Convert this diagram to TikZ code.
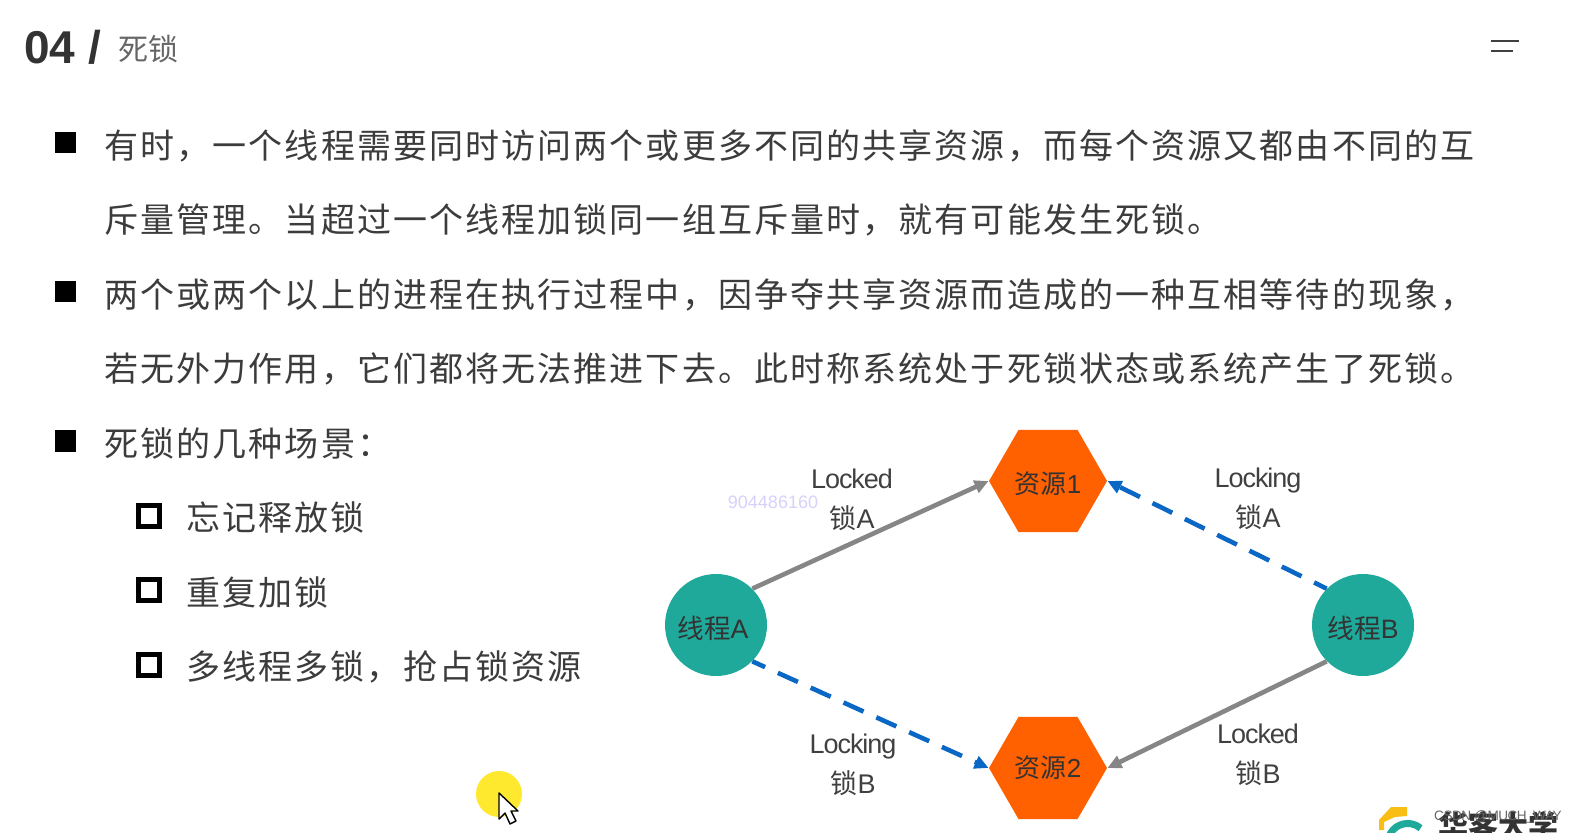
\documentclass[tikz,border=0pt]{standalone}
\usepackage{fontspec}
\usetikzlibrary{arrows.meta,shapes.geometric}
\setmainfont{Liberation Sans}
\newfontfamily\cjk{Noto Sans CJK SC}
\newfontfamily\cjkbody[LetterSpace=6.2]{Noto Sans CJK SC}
\newfontfamily\tightlatin[LetterSpace=-4]{Liberation Sans}
\definecolor{threadcolor}{HTML}{1FA99A}
\definecolor{rescolor}{HTML}{FF6000}
\definecolor{lockedcolor}{HTML}{868686}
\definecolor{lockingcolor}{HTML}{0A68C4}
\definecolor{bodycolor}{HTML}{3C3C3C}
\definecolor{capcolor}{HTML}{F9BE16}
\definecolor{spotcolor}{HTML}{FFE92E}
\tikzset{
    bodytext/.style={anchor=west,inner sep=0pt,text=bodycolor,font=\fontsize{17}{20}\cjkbody},
    bullet/.style={fill=black,minimum size=10.5pt,inner sep=0pt},
    subbullet/.style={draw=black,line width=2.2pt,minimum size=10.5pt,inner sep=0pt},
    thread/.style={circle,fill=threadcolor,minimum size=51pt,inner sep=0pt,text=black!80,text height=15pt,text depth=2pt,font=\fontsize{13.3}{16}\tightlatin},
    res/.style={regular polygon,regular polygon sides=6,fill=rescolor,minimum size=59pt,inner sep=0pt,text=black!80,font=\fontsize{13}{16}\tightlatin},
    locktext/.style={align=center,inner sep=0pt,text=black!75,font=\fontsize{13.5}{20}\tightlatin},
    locked/.style={draw=lockedcolor,line width=2.3pt,-{Triangle[length=7pt,width=6.5pt]}},
    locking/.style={draw=lockingcolor,line width=2.3pt,dash pattern=on 11pt off 7pt,dash phase=4pt,-{Triangle[length=7pt,width=6.5pt]}},
}
\begin{document}
\begin{tikzpicture}[x=0.5pt,y=-0.5pt]
    \clip (0,0) rectangle (1577,833);

    % header
    \node[anchor=west,inner sep=0pt,text=black!80,font=\fontsize{23}{26}\bfseries] (num) at (24,47) {04 /};
    \node[anchor=west,inner sep=0pt,text=black!60,font=\fontsize{15}{18}\cjk] (title) at (118,49) {死锁};
    \draw[black!75,line width=1pt] (1491,41) -- (1519,41);
    \draw[black!75,line width=1pt] (1491,51) -- (1513,51);

    % text
    \node[bullet] (b1) at (65,142.5) {};
    \node[bullet] (b2) at (65,291.5) {};
    \node[bullet] (b3) at (65,441) {};
    \node[bodytext] (line1) at (104,146) {有时，一个线程需要同时访问两个或更多不同的共享资源，而每个资源又都由不同的互};
    \node[bodytext] (line2) at (104,220) {斥量管理。当超过一个线程加锁同一组互斥量时，就有可能发生死锁。};
    \node[bodytext] (line3) at (104,295) {两个或两个以上的进程在执行过程中，因争夺共享资源而造成的一种互相等待的现象，};
    \node[bodytext] (line4) at (104,369) {若无外力作用，它们都将无法推进下去。此时称系统处于死锁状态或系统产生了死锁。};
    \node[bodytext] (line5) at (104,443.5) {死锁的几种场景：};
    \node[subbullet] (s1) at (149,516) {};
    \node[subbullet] (s2) at (149,590) {};
    \node[subbullet] (s3) at (149,665) {};
    \node[bodytext] (sub1) at (186,518) {忘记释放锁};
    \node[bodytext] (sub2) at (186,592) {重复加锁};
    \node[bodytext] (sub3) at (186,667) {多线程多锁，抢占锁资源};

    % graph
    \node[thread] (threadA) at (716,625) {\hspace{-3pt}{\cjk 线程}A};
    \node[thread] (threadB) at (1363,625) {{\cjk 线程}B};
    \node[res,text height=14pt,text depth=2pt] (res1) at (1048,481) {{\cjk 资源}1};
    \node[res] (res2) at (1048,768) {{\cjk 资源}2};
    \draw[locked] (threadA.north east) -- (res1.west);
    \draw[locked] (threadB.south west) -- (res2.east);
    \draw[locking] (threadA.south east) -- (res2.west);
    \draw[locking] (threadB.north west) -- (res1.east);
    \node[locktext] (lockA1) at (852,500) {Locked\\{\cjk 锁}A};
    \node[locktext] (lockB1) at (853,765) {Locking\\{\cjk 锁}B};
    \node[locktext] (lockA2) at (1258,498.5) {Locking\\{\cjk 锁}A};
    \node[locktext] (lockB2) at (1258,755) {Locked\\{\cjk 锁}B};

    % watermark
    \node[inner sep=0pt,text=violet!20!blue!18,font=\fontsize{9}{10}\selectfont] (mark) at (773,502) {904486160};

    % cursor
    \fill[spotcolor] (499,794) circle (23);
    \draw[black,fill=white,line width=.7pt,line join=round] (499,793) -- (499,819) -- (505,813) -- (510,824) -- (516,821) -- (511,811) -- (518,811) -- cycle;

    % logo
    \fill[capcolor] (1407,807) -- (1391,807) -- (1379,820) -- (1379,830) -- (1384,830) -- (1384,822) -- (1395,817) -- (1407,816) -- cycle;
    \draw[threadcolor,line width=3.5pt] (1388,840) arc (-170:-50:20);
    \node[anchor=west,inner sep=0pt,text=black!80,font=\fontsize{15}{18}\cjk\bfseries] (logo) at (1438,826) {华客大学};
    \node[anchor=east,inner sep=0pt,text=black!60,font=\fontsize{6.8}{8}\tightlatin] (csdn) at (1562,817) {CSDN @MUCH\_WAY};
\end{tikzpicture}
\end{document}
